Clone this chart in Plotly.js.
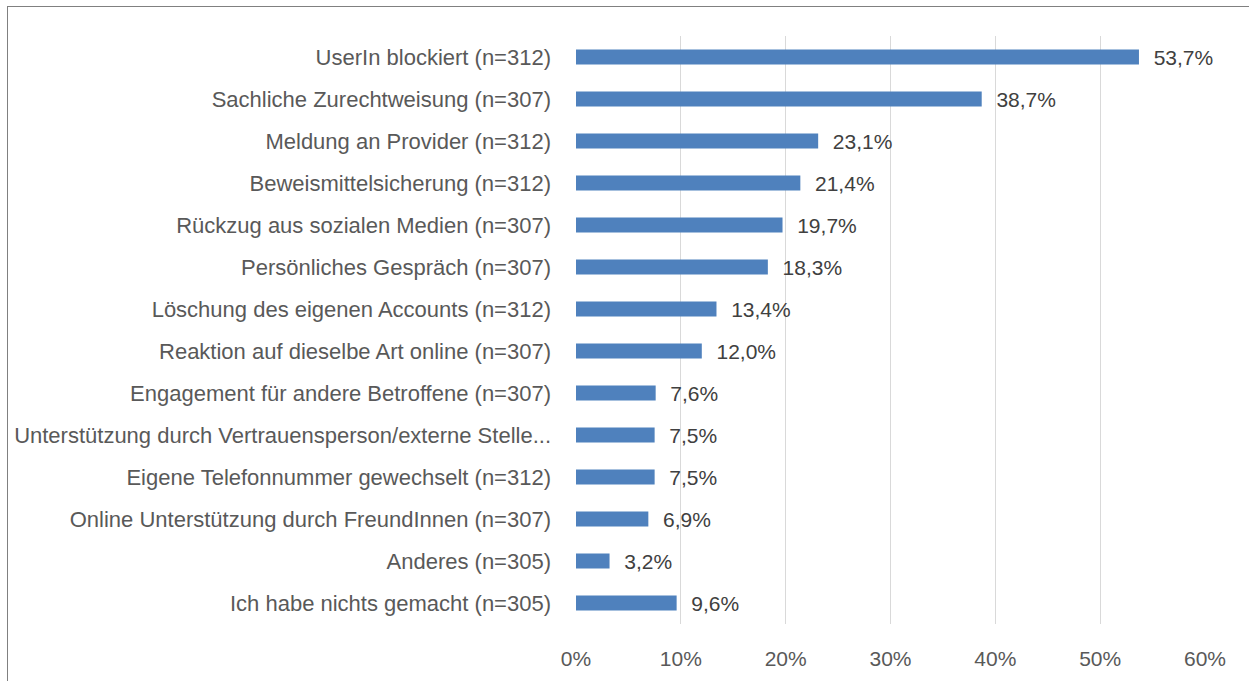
<!DOCTYPE html>
<html>
<head>
<meta charset="utf-8">
<script src="https://cdn.plot.ly/plotly-3.0.1.min.js"></script>
<style>
html,body{margin:0;padding:0;width:1249px;height:681px;overflow:hidden;background:#fff;}
#frame{position:absolute;left:7px;top:6px;width:1400px;height:900px;border:1px solid #808080;box-sizing:border-box;}
#chart{position:absolute;left:0;top:0;width:1249px;height:681px;}
</style>
</head>
<body>
<div id="frame"></div>
<div id="chart"></div>
<script>
const categories = [
  "UserIn blockiert (n=312)",
  "Sachliche Zurechtweisung (n=307)",
  "Meldung an Provider (n=312)",
  "Beweismittelsicherung (n=312)",
  "Rückzug aus sozialen Medien (n=307)",
  "Persönliches Gespräch (n=307)",
  "Löschung des eigenen Accounts (n=312)",
  "Reaktion auf dieselbe Art online (n=307)",
  "Engagement für andere Betroffene (n=307)",
  "Unterstützung durch Vertrauensperson/externe Stelle...",
  "Eigene Telefonnummer gewechselt (n=312)",
  "Online Unterstützung durch FreundInnen (n=307)",
  "Anderes (n=305)",
  "Ich habe nichts gemacht (n=305)"
];
const values = [0.537, 0.387, 0.231, 0.214, 0.197, 0.183, 0.134, 0.120, 0.076, 0.075, 0.075, 0.069, 0.032, 0.096];
const tickValues = [0, 0.1, 0.2, 0.3, 0.4, 0.5, 0.6];

const font = "Liberation Sans, Arial, sans-serif";
Plotly.newPlot('chart', [{
  type: 'bar',
  orientation: 'h',
  x: values,
  y: categories,
  marker: {color: '#4f81bd', line: {width: 0}},
  texttemplate: '\u00a0\u00a0%{x:.1%}',
  textposition: 'outside',
  constraintext: 'none',
  cliponaxis: false,
  textfont: {family: font, size: 21, color: '#404040'},
  hoverinfo: 'none'
}], {
  width: 1249, height: 681,
  paper_bgcolor: 'rgba(0,0,0,0)',
  plot_bgcolor: 'rgba(0,0,0,0)',
  separators: ',.',
  margin: {l: 576, r: 44, t: 36, b: 57},
  bargap: 0.64,
  showlegend: false,
  xaxis: {
    range: [0, 0.6],
    tickvals: tickValues,
    tickformat: '.0%',
    showgrid: true, gridcolor: '#d9d9d9', gridwidth: 1,
    zeroline: false, showline: false,
    ticks: '', ticklabelstandoff: 20,
    tickfont: {family: font, size: 21, color: '#595959'},
    fixedrange: true
  },
  yaxis: {
    autorange: 'reversed',
    showgrid: false, zeroline: false, showline: false,
    ticks: '', ticklabelstandoff: 24,
    tickfont: {family: font, size: 22, color: '#595959'},
    automargin: false,
    fixedrange: true
  }
}, {displayModeBar: false, staticPlot: true});
</script>
</body>
</html>
